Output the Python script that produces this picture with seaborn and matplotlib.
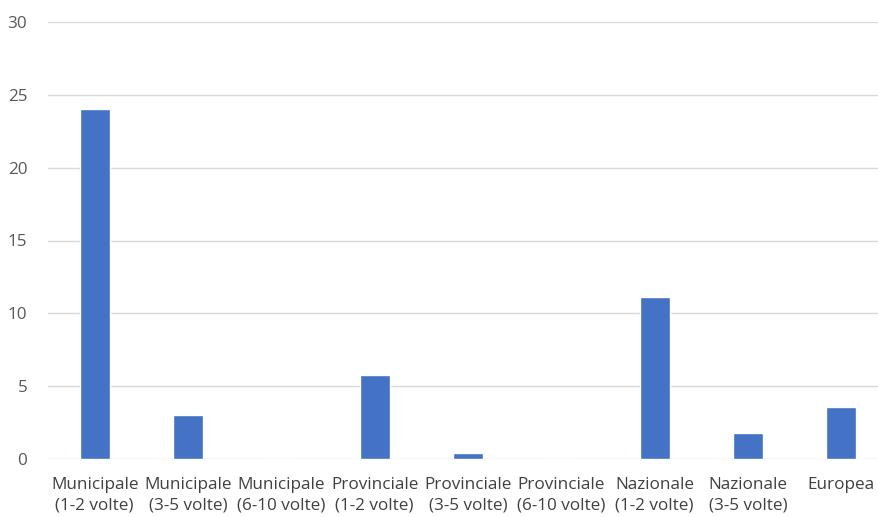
import pandas as pd
import seaborn as sns
import matplotlib.pyplot as plt

# Data
categories = [
    'Municipale\n(1-2 volte)', 'Municipale\n(3-5 volte)', 'Municipale\n(6-10 volte)',
    'Provinciale\n(1-2 volte)', 'Provinciale\n(3-5 volte)', 'Provinciale\n(6-10 volte)',
    'Nazionale\n(1-2 volte)', 'Nazionale\n(3-5 volte)', 'Europea',
]
values = [24, 3.05, 0, 5.75, 0.4, 0, 11.1, 1.8, 3.6]
y_ticks = [0, 5, 10, 15, 20, 25, 30]

df = pd.DataFrame({'categoria': categories, 'valore': values})

sns.set_style('white')
plt.rcParams['font.family'] = ['Open Sans', 'DejaVu Sans']

fig = plt.figure(figsize=(8.79, 5.17), dpi=100)
# plot area runs a bit past the right edge of the picture, like the cropped original
ax = fig.add_axes([48 / 879, 1 - 459 / 517, 840 / 879, 437 / 517])

sns.barplot(data=df, x='categoria', y='valore', color='#4472C4',
            width=0.32, saturation=1, ax=ax, zorder=3)

ax.set_ylim(0, 30)
ax.set_yticks(y_ticks)
ax.set_xlim(-0.5, len(categories) - 0.5)
ax.grid(axis='y', color='#D9D9D9', linewidth=1, zorder=0)
ax.set_axisbelow(True)
for s in ax.spines.values():
    s.set_visible(False)
ax.set_xlabel('')
ax.set_ylabel('')
ax.tick_params(axis='y', length=0, pad=15, labelsize=12.3, labelcolor='#595959')
ax.tick_params(axis='x', length=0, pad=13, labelsize=12.3, labelcolor='#404040')
for t in ax.get_xticklabels():
    t.set_linespacing(1.4)

fig.savefig('out.png', dpi=100, facecolor='white')
